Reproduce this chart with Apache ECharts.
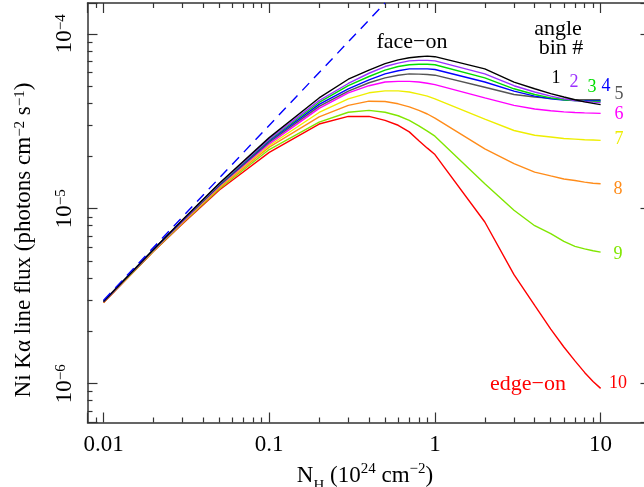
<!DOCTYPE html>
<html>
<head>
<meta charset="utf-8">
<script src="https://cdn.jsdelivr.net/npm/echarts@6/dist/echarts.min.js"></script>
<style>
  html, body { margin: 0; padding: 0; background: #fff; }
  #chart { width: 644px; height: 487px; }
</style>
</head>
<body>
<div id="chart"></div>
<script>
// N_H grid (10^24 cm^-2)
const nh = [0.01, 0.02, 0.03, 0.05, 0.1, 0.2, 0.3, 0.4, 0.5, 0.6, 0.7, 0.8, 0.9, 1, 2, 3, 4, 5, 6, 7, 8, 9, 10];

// Ni Ka line flux per angle bin (photons cm^-2 s^-1)
const bin1 = [2.95e-6, 5.85e-6, 8.65e-6, 1.40e-5, 2.55e-5, 4.30e-5, 5.50e-5, 6.20e-5, 6.75e-5, 7.10e-5, 7.30e-5, 7.40e-5, 7.45e-5, 7.40e-5, 6.30e-5, 5.30e-5, 4.85e-5, 4.55e-5, 4.35e-5, 4.20e-5, 4.08e-5, 4.00e-5, 3.94e-5];
const bin2 = [2.95e-6, 5.85e-6, 8.60e-6, 1.39e-5, 2.50e-5, 4.15e-5, 5.20e-5, 5.95e-5, 6.50e-5, 6.80e-5, 7.00e-5, 7.05e-5, 7.05e-5, 7.00e-5, 5.90e-5, 5.05e-5, 4.65e-5, 4.40e-5, 4.25e-5, 4.15e-5, 4.10e-5, 4.07e-5, 4.05e-5];
const bin3 = [2.95e-6, 5.85e-6, 8.60e-6, 1.38e-5, 2.47e-5, 4.05e-5, 5.05e-5, 5.70e-5, 6.20e-5, 6.50e-5, 6.65e-5, 6.70e-5, 6.70e-5, 6.65e-5, 5.60e-5, 4.85e-5, 4.50e-5, 4.30e-5, 4.20e-5, 4.15e-5, 4.12e-5, 4.10e-5, 4.10e-5];
const bin4 = [2.95e-6, 5.82e-6, 8.55e-6, 1.37e-5, 2.44e-5, 3.95e-5, 4.85e-5, 5.45e-5, 5.90e-5, 6.15e-5, 6.30e-5, 6.30e-5, 6.30e-5, 6.25e-5, 5.30e-5, 4.70e-5, 4.40e-5, 4.25e-5, 4.18e-5, 4.15e-5, 4.15e-5, 4.15e-5, 4.15e-5];
const bin5 = [2.95e-6, 5.80e-6, 8.50e-6, 1.36e-5, 2.40e-5, 3.85e-5, 4.70e-5, 5.25e-5, 5.60e-5, 5.80e-5, 5.90e-5, 5.88e-5, 5.85e-5, 5.80e-5, 4.95e-5, 4.50e-5, 4.35e-5, 4.28e-5, 4.23e-5, 4.20e-5, 4.20e-5, 4.20e-5, 4.20e-5];
const bin6 = [2.95e-6, 5.80e-6, 8.45e-6, 1.35e-5, 2.35e-5, 3.75e-5, 4.60e-5, 5.05e-5, 5.30e-5, 5.35e-5, 5.35e-5, 5.30e-5, 5.22e-5, 5.12e-5, 4.30e-5, 3.90e-5, 3.72e-5, 3.63e-5, 3.58e-5, 3.55e-5, 3.53e-5, 3.52e-5, 3.51e-5];
const bin7 = [2.95e-6, 5.78e-6, 8.40e-6, 1.34e-5, 2.30e-5, 3.55e-5, 4.25e-5, 4.60e-5, 4.72e-5, 4.72e-5, 4.65e-5, 4.52e-5, 4.40e-5, 4.25e-5, 3.25e-5, 2.80e-5, 2.63e-5, 2.57e-5, 2.52e-5, 2.50e-5, 2.48e-5, 2.47e-5, 2.46e-5];
const bin8 = [2.93e-6, 5.75e-6, 8.35e-6, 1.32e-5, 2.25e-5, 3.35e-5, 3.90e-5, 4.12e-5, 4.10e-5, 3.98e-5, 3.82e-5, 3.65e-5, 3.48e-5, 3.30e-5, 2.20e-5, 1.81e-5, 1.62e-5, 1.54e-5, 1.48e-5, 1.45e-5, 1.42e-5, 1.40e-5, 1.39e-5];
const bin9 = [2.92e-6, 5.72e-6, 8.28e-6, 1.30e-5, 2.18e-5, 3.13e-5, 3.56e-5, 3.65e-5, 3.56e-5, 3.40e-5, 3.20e-5, 2.98e-5, 2.78e-5, 2.60e-5, 1.39e-5, 9.80e-6, 8.00e-6, 7.20e-6, 6.50e-6, 6.10e-6, 5.90e-6, 5.75e-6, 5.65e-6];
const bin10 = [2.90e-6, 5.70e-6, 8.20e-6, 1.28e-5, 2.10e-5, 3.05e-5, 3.37e-5, 3.37e-5, 3.20e-5, 3.00e-5, 2.75e-5, 2.45e-5, 2.22e-5, 2.04e-5, 8.40e-6, 4.20e-6, 2.80e-6, 2.05e-6, 1.62e-6, 1.35e-6, 1.16e-6, 1.03e-6, 9.40e-7];

// unabsorbed (dashed) line
const thinNh = [0.01, 0.5];
const thinFlux = [3.0e-6, 1.5e-4];

const binColors = ["#000000", "#9b30ff", "#00dd00", "#0000ff", "#555555", "#ff00ff", "#eeee00", "#ff8c1a", "#80e600", "#ff0000"];
const bins = [bin1, bin2, bin3, bin4, bin5, bin6, bin7, bin8, bin9, bin10];

const xMajor = [0.01, 0.1, 1, 10];

const FONT = "Liberation Serif";
const AX = "#333";

const chart = echarts.init(document.getElementById("chart"), null, { renderer: "canvas" });

function isPow10(v) {
  const e = Math.log10(v);
  return Math.abs(e - Math.round(e)) < 1e-6;
}

const xBase = {
  type: "log",
  logBase: 10,
  min: 0.008,
  max: 20,
  gridIndex: 0,
  axisLine: { show: true, onZero: false, lineStyle: { color: AX, width: 1.5 } },
  axisTick: { show: true, inside: true, length: 10, lineStyle: { color: AX, width: 1.2 } },
  minorTick: { show: true, splitNumber: 9, length: 5, lineStyle: { color: AX, width: 1.2 } },
  splitLine: { show: false },
  minorSplitLine: { show: false },
};

const yBase = {
  type: "log",
  logBase: 10,
  min: 6e-7,
  max: 1.5e-4,
  gridIndex: 0,
  axisLine: { show: true, onZero: false, lineStyle: { color: AX, width: 1.5 } },
  axisTick: { show: true, inside: true, length: 10, lineStyle: { color: AX, width: 1.2 } },
  minorTick: { show: true, splitNumber: 9, length: 5, lineStyle: { color: AX, width: 1.2 } },
  splitLine: { show: false },
  minorSplitLine: { show: false },
};

const series = bins.map((b, i) => ({
  name: "bin " + (i + 1),
  type: "line",
  xAxisIndex: 0,
  yAxisIndex: 0,
  data: nh.map((x, j) => [x, b[j]]),
  symbol: "none",
  smooth: false,
  lineStyle: { color: binColors[i], width: 1.4 },
  itemStyle: { color: binColors[i] },
  z: 10 - i,
}));

series.push({
  name: "thin",
  type: "line",
  xAxisIndex: 0,
  yAxisIndex: 0,
  data: thinNh.map((x, j) => [x, thinFlux[j]]),
  symbol: "none",
  lineStyle: { color: "#0000ff", width: 1.4, type: [10, 7] },
  z: 11,
});

// annotation text
const labelNums = ["1", "2", "3", "4", "5", "6", "7", "8", "9", "10"];
const labelPos = [[556, 78], [574, 82], [592, 87], [606, 86], [619, 94], [619, 114], [619, 139], [618, 189], [618, 254], [618, 383]];

const graphic = [
  { type: "text", x: 412, y: 42, style: { text: "face\u2212on", font: "22px " + FONT, fill: "#000", align: "center", verticalAlign: "middle" } },
  { type: "text", x: 558, y: 29, style: { text: "angle", font: "22px " + FONT, fill: "#000", align: "center", verticalAlign: "middle" } },
  { type: "text", x: 561, y: 48, style: { text: "bin #", font: "22px " + FONT, fill: "#000", align: "center", verticalAlign: "middle" } },
  { type: "text", x: 528, y: 384, style: { text: "edge\u2212on", font: "22px " + FONT, fill: "#ff0000", align: "center", verticalAlign: "middle" } },
  {
    type: "text", x: 24, y: 240, rotation: Math.PI / 2,
    style: {
      text: "Ni K\u03b1 line flux (photons cm{s|\u22122} s{s|\u22121})",
      font: "23px " + FONT, fill: "#000", align: "center", verticalAlign: "middle",
      rich: { s: { fontSize: 15, fontFamily: FONT, verticalAlign: "top", lineHeight: 14 } },
    },
  },
  {
    type: "text", x: 365, y: 476,
    style: {
      text: "N{sub|H} (10{s|24} cm{s|\u22122})",
      font: "23px " + FONT, fill: "#000", align: "center", verticalAlign: "middle", lineHeight: 36,
      rich: {
        s: { fontSize: 15, fontFamily: FONT, verticalAlign: "top", lineHeight: 14, padding: [4, 0, 0, 0] },
        sub: { fontSize: 15, fontFamily: FONT, verticalAlign: "bottom", lineHeight: 14 },
      },
    },
  },
];
labelNums.forEach((t, i) => {
  graphic.push({
    type: "text", x: labelPos[i][0], y: labelPos[i][1],
    style: { text: t, font: "18px " + FONT, fill: binColors[i], align: "center", verticalAlign: "middle" },
  });
});

chart.setOption({
  animation: false,
  backgroundColor: "#fff",
  grid: { left: 87.5, top: 3, width: 563, height: 419.5, containLabel: false, outerBoundsMode: "none" },
  xAxis: [
    Object.assign({}, xBase, {
      position: "bottom",
      axisLabel: {
        show: true, margin: 11, color: "#000", fontFamily: FONT, fontSize: 23,
        showMinLabel: false, showMaxLabel: false,
        formatter: (v) => (isPow10(v) && xMajor.includes(+v.toPrecision(3)) ? String(+v.toPrecision(3)) : ""),
      },
    }),
    Object.assign({}, xBase, { position: "top", axisLabel: { show: false } }),
  ],
  yAxis: [
    Object.assign({}, yBase, {
      position: "left",
      axisLabel: {
        show: true, margin: 11, rotate: 90, color: "#000", fontFamily: FONT, fontSize: 23,
        showMinLabel: false, showMaxLabel: false,
        formatter: (v) => (isPow10(v) ? "{b|10}{s|\u2212" + -Math.round(Math.log10(v)) + "}" : ""),
        rich: {
          b: { fontSize: 23, fontFamily: FONT, color: "#000" },
          s: { fontSize: 15, fontFamily: FONT, color: "#000", verticalAlign: "top", lineHeight: 14 },
        },
      },
    }),
    Object.assign({}, yBase, { position: "right", axisLabel: { show: false } }),
  ],
  series: series,
  graphic: graphic,
});
</script>
</body>
</html>
